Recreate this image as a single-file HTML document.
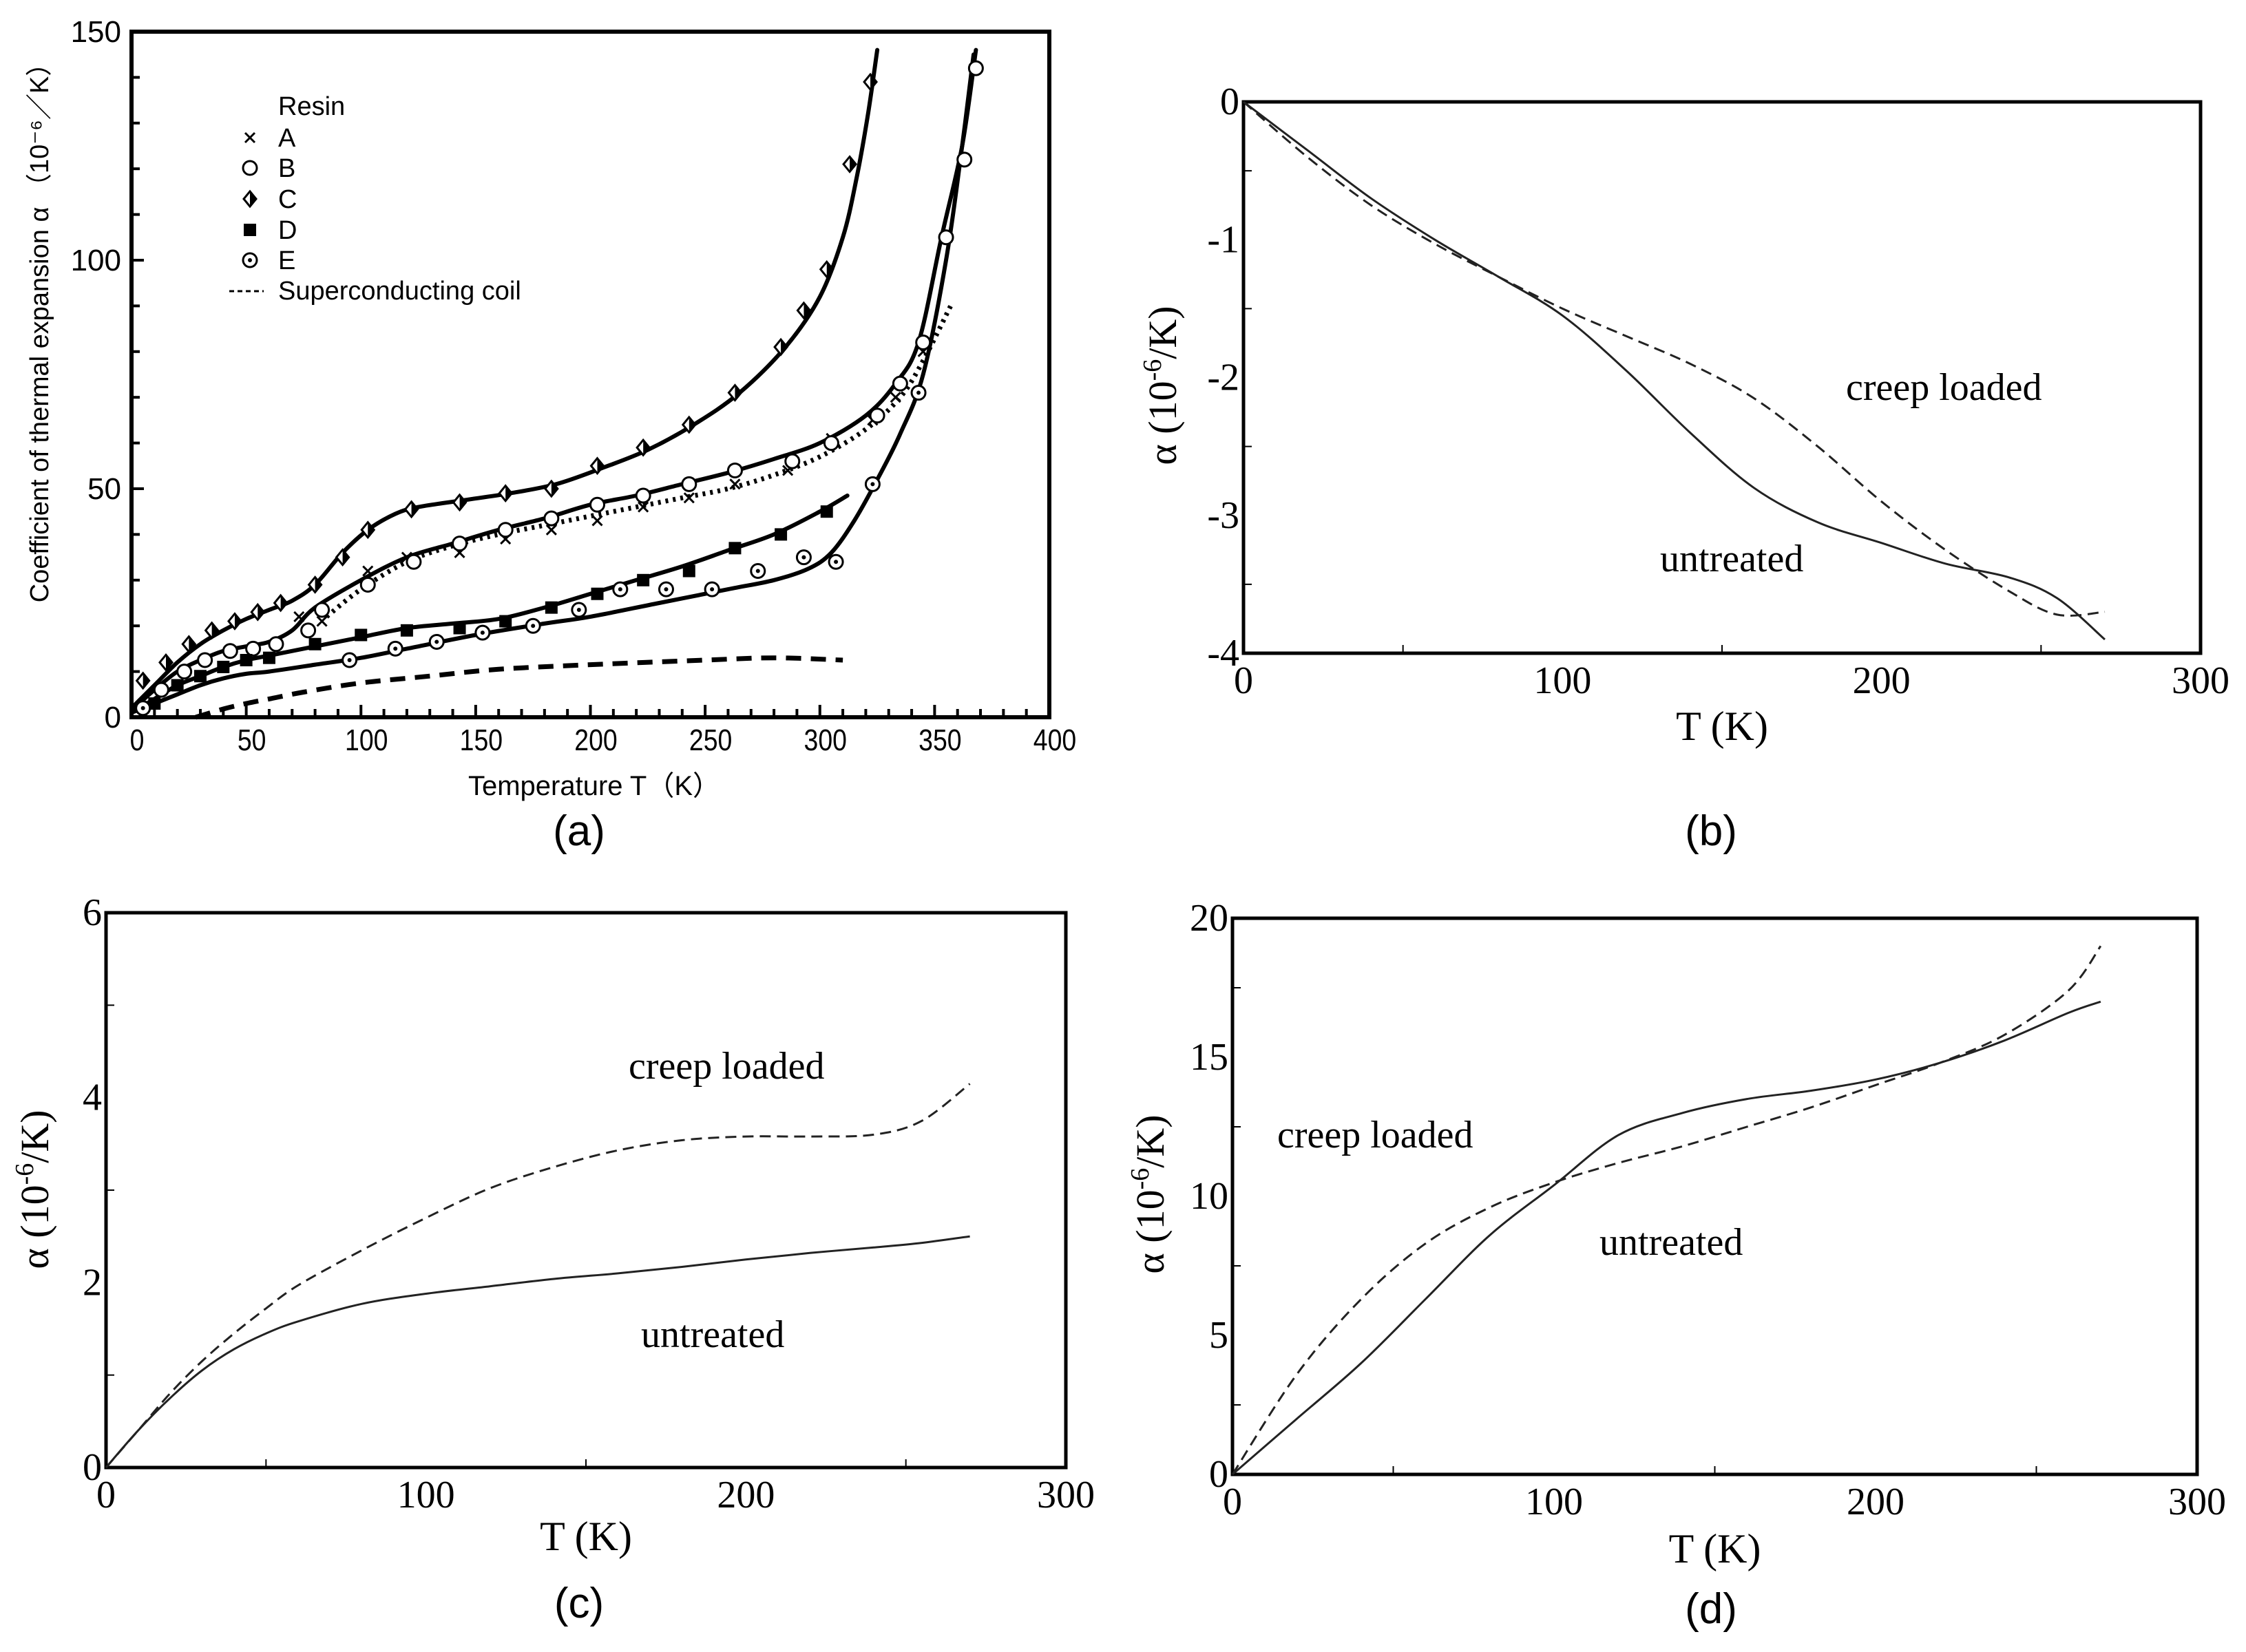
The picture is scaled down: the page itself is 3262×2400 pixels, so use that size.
<!DOCTYPE html>
<html><head><meta charset="utf-8"><style>
html,body{margin:0;padding:0;background:#fff}
svg{display:block}
.sans{font-family:"Liberation Sans",sans-serif}
.serif{font-family:"Liberation Serif",serif}
</style></head><body>
<svg id="root" width="3262" height="2400" viewBox="0 0 3262 2400" xmlns="http://www.w3.org/2000/svg">
<rect width="3262" height="2400" fill="#fff"/>
</svg>
<script>
// ---------- Panel (a) data ----------
const aC_T=[5,15,25,35,45,55,65,80,92,103,122,143,163,183,203,223,243,263,283,293,303,313,322];
const aC_V=[8,12,16,19,21,23,25,29,35,41,45.5,47,49,50,55,59,64,71,81,89,98,121,139];
const aCl_T=[0,10,20,30,40,50,60,70,80,92,103,115,125,145,165,185,205,225,245,265,285,300,310,316,321,325];
const aCl_V=[2,7,12,16,19,21.5,23.5,25.5,29,36,41,44.5,46,47.5,49,51,54.5,58.5,64,71,81,92,105,118,132,146];
const aB_T=[5,13,23,32,43,53,63,77,83,103,123,143,163,183,203,223,243,263,288,305,325,335,345,355,363,368];
const aB_V=[2,6,10,12.5,14.5,15,16,19,23.5,29,34,38,41,43.5,46.5,48.5,51,54,56,60,66,73,82,105,122,142];
const aBl_T=[0,10,20,30,40,50,60,70,80,100,120,140,160,180,200,220,240,260,280,300,320,333,343,353,362,368];
const aBl_V=[1.5,6,10,12.5,14.5,15.5,16.5,19,24,30,35,38,41,43.5,46.5,48.5,51,53.5,56.5,60,66,73,82,105,125,146];
const aA_T=[73,83,103,120,143,163,183,203,223,243,263,286,305,323,333,345];
const aA_V=[22,21,32,35,36,39,41,43,46,48,51,54,61,65,70,80];
const aAl_T=[85,100,120,140,160,180,200,220,240,260,280,300,320,335,345,357];
const aAl_V=[22,28,34,37.5,40,42,44,46,48,50,53,57,63,70,78,90];
const aD_T=[10,20,30,40,50,60,80,100,120,143,163,183,203,223,243,263,283,303];
const aD_V=[3,7,9,11,12.5,13,16,18,19,19.5,21,24,27,30,32,37,40,45];
const aDl_T=[0,10,20,30,40,50,60,80,100,120,140,160,180,200,220,240,260,280,300,312];
const aDl_V=[1,4,7,9,11,12.5,13.5,15.5,17.5,19.5,20.5,21.5,24,27,30,33,36.5,40,45,48.5];
const aE_T=[5,95,115,133,153,175,195,213,233,253,273,293,307,323,343];
const aE_V=[2,12.5,15,16.5,18.5,20,23.5,28,28,28,32,35,34,51,71];
const aEl_T=[0,10,20,30,40,50,60,80,100,120,150,180,200,230,260,280,295,305,315,325,335,345,355,362,367];
const aEl_V=[1,3,5,7,8.5,9.5,10,11.5,13,15,18,20.5,22,25,28,30,32.5,36,43,52,62,75,100,125,145];
const aCoil_T=[28,40,50,60,75,100,130,160,200,250,280,310];
const aCoil_V=[0,1.8,3,4,5.5,7.5,9,10.5,11.5,12.5,13,12.5];
const aXTicks=[0,50,100,150,200,250,300,350,400];
const aYTicks=[0,50,100,150];
// ---------- Panel (b) data ----------
const bT=[0,20,40,60,80,100,120,140,160,180,200,220,240,255,270];
const bUntreated=[0,-0.35,-0.7,-1.0,-1.27,-1.55,-1.95,-2.4,-2.8,-3.05,-3.2,-3.35,-3.45,-3.6,-3.9];
const bCreep=[0,-0.4,-0.75,-1.03,-1.27,-1.5,-1.7,-1.9,-2.15,-2.5,-2.9,-3.25,-3.55,-3.72,-3.7];
const bXTicks=[0,100,200,300];
const bYTicks=[0,-1,-2,-3,-4];
// ---------- Panel (c) data ----------
const cT=[0,10,20,30,40,50,60,80,100,120,140,160,180,200,220,240,255,270];
const cCreep=[0,0.4,0.8,1.15,1.45,1.72,1.97,2.35,2.7,3.02,3.25,3.43,3.54,3.58,3.58,3.6,3.75,4.15];
const cUntreated=[0,0.4,0.75,1.05,1.28,1.45,1.58,1.77,1.88,1.96,2.04,2.1,2.17,2.25,2.32,2.38,2.43,2.5];
const cXTicks=[0,100,200,300];
const cYTicks=[0,2,4,6];
// ---------- Panel (d) data ----------
const dT=[0,20,40,60,80,100,120,140,160,180,200,220,240,260,270];
const dUntreated=[0,2,4,6.3,8.6,10.4,12.2,13.0,13.5,13.8,14.2,14.8,15.6,16.6,17];
const dCreep=[0,3.6,6.3,8.3,9.6,10.5,11.2,11.8,12.5,13.2,14.0,14.8,15.8,17.4,19];
const dXTicks=[0,100,200,300];
const dYTicks=[0,5,10,15,20];

const NS="http://www.w3.org/2000/svg";
const root=document.getElementById('root');
function mk(tag,attrs,parent,text){const e=document.createElementNS(NS,tag);for(const k in attrs)e.setAttribute(k,attrs[k]);if(text!==undefined)e.textContent=text;(parent||root).appendChild(e);return e;}
function scale(d0,d1,p0,p1){return v=>p0+(v-d0)*(p1-p0)/(d1-d0);}
function smooth(xs,ys){let pts=xs.map((x,i)=>[x,ys[i]]);let d='M'+pts[0][0].toFixed(1)+','+pts[0][1].toFixed(1);
 for(let i=0;i<pts.length-1;i++){const p0=pts[Math.max(0,i-1)],p1=pts[i],p2=pts[i+1],p3=pts[Math.min(pts.length-1,i+2)];
 const c1=[p1[0]+(p2[0]-p0[0])/6,p1[1]+(p2[1]-p0[1])/6],c2=[p2[0]-(p3[0]-p1[0])/6,p2[1]-(p3[1]-p1[1])/6];
 d+=' C'+c1.map(v=>v.toFixed(1))+' '+c2.map(v=>v.toFixed(1))+' '+p2.map(v=>v.toFixed(1));}return d;}

// ===== Panel (a) =====
(function(){
 const g=mk('g',{});
 
 
 const L=191,R=1524,T=46,B=1042;
 const X=scale(0,400,L,R),Y=scale(0,150,B,T);
 const fr=mk('rect',{x:L,y:T,width:R-L,height:B-T,fill:'none',stroke:'#000','stroke-width':6},g);
 
 
 for(let v=10;v<150;v+=10){const t=mk('line',{x1:L,x2:L+(v%50?12:18),y1:Y(v),y2:Y(v),stroke:'#000','stroke-width':4},g);
  
  }
 for(let v=10;v<400;v+=10){const t=mk('line',{x1:X(v),x2:X(v),y1:B,y2:B-(v%50?12:18),stroke:'#000','stroke-width':4},g);
  
  }
 aXTicks.forEach(v=>{const t=mk('text',{x:X(v)+8,y:1090,'text-anchor':'middle','font-size':44,class:'sans',transform:`translate(${X(v)+8},0) scale(0.85,1) translate(${-(X(v)+8)},0)`},g,String(v));
  
  });
 aYTicks.forEach(v=>{const t=mk('text',{x:176,y:Y(v)+15,'text-anchor':'end','font-size':44,class:'sans'},g,String(v));
  
  });
 const xt=mk('text',{x:863,y:1155,'text-anchor':'middle','font-size':40,class:'sans'},g,'Temperature T（K）');
 
 
 const yt=mk('text',{x:0,y:0,'text-anchor':'middle','font-size':38,class:'sans',transform:'translate(70,474) rotate(-90)'},g,'Coefficient of thermal expansion α （10⁻⁶／K）');
 
 
 const lab=mk('text',{x:841,y:1228,'text-anchor':'middle','font-size':62,class:'sans'},g,'(a)');
 
 
 const line=(ts,vs,name,extra)=>{const p=mk('path',Object.assign({d:smooth(ts.map(X),vs.map(Y)),fill:'none',stroke:'#000','stroke-width':6,'stroke-linecap':'round'},extra||{}),g);
  
  };
 line(aCl_T,aCl_V,'curve-resin-c');
 line(aBl_T,aBl_V,'curve-resin-b');
 line(aAl_T,aAl_V,'curve-resin-a',{'stroke-dasharray':'4 7','stroke-width':7,'stroke-linecap':'butt'});
 line(aDl_T,aDl_V,'curve-resin-d');
 line(aEl_T,aEl_V,'curve-resin-e');
 line(aCoil_T,aCoil_V,'curve-superconducting-coil',{'stroke-dasharray':'22 14','stroke-width':7,'stroke-linecap':'butt'});
 const marker=(type,x,y,name)=>{let e;
  if(type==='x'){e=mk('path',{d:`M${x-7},${y-7}L${x+7},${y+7}M${x-7},${y+7}L${x+7},${y-7}`,stroke:'#000','stroke-width':3},g);}
  else if(type==='o'){e=mk('circle',{cx:x,cy:y,r:10,fill:'#fff',stroke:'#000','stroke-width':3},g);}
  else if(type==='d'){e=mk('g',{},g);mk('path',{d:`M${x},${y-11}L${x+9},${y}L${x},${y+11}L${x-9},${y}Z`,fill:'#fff',stroke:'#000','stroke-width':3},e);mk('path',{d:`M${x},${y-11}L${x+9},${y}L${x},${y+11}Z`,fill:'#000'},e);}
  else if(type==='s'){e=mk('rect',{x:x-9,y:y-9,width:18,height:18,fill:'#000'},g);}
  else {e=mk('g',{},g);mk('circle',{cx:x,cy:y,r:10,fill:'#fff',stroke:'#000','stroke-width':3},e);mk('circle',{cx:x,cy:y,r:3,fill:'#000'},e);}
  
  };
 aA_T.forEach((t,i)=>marker('x',X(t),Y(aA_V[i]),'point-resin-a'));
 aB_T.forEach((t,i)=>marker('o',X(t),Y(aB_V[i]),'point-resin-b'));
 aC_T.forEach((t,i)=>marker('d',X(t),Y(aC_V[i]),'point-resin-c'));
 aD_T.forEach((t,i)=>marker('s',X(t),Y(aD_V[i]),'point-resin-d'));
 aE_T.forEach((t,i)=>marker('e',X(t),Y(aE_V[i]),'point-resin-e'));
 const lg=mk('g',{},g);
 
 
 const rt=mk('text',{x:404,y:167,'font-size':38,class:'sans'},lg,'Resin');
 
 
 [['x','A',213],['o','B',257],['d','C',302],['s','D',347],['e','E',391]].forEach(([m,n,y])=>{
  marker(m,363,y-13,'legend-marker');
  const t=mk('text',{x:404,y:y,'font-size':38,class:'sans'},lg,n);
  
  });
 const dl=mk('line',{x1:333,x2:383,y1:423,y2:423,stroke:'#000','stroke-width':3,'stroke-dasharray':'7 5'},lg);
 
 
 const st=mk('text',{x:404,y:435,'font-size':38,class:'sans'},lg,'Superconducting coil');
 
 
})();

// ===== Serif panels =====
function serifPanel(id,L,R,T,B,yMin,yMax,xTicks,yTicks,yMinor,series,labels,xTitleY,yTitleX,yTitleY,panelLabelY,panelLabelX){
 const g=mk('g',{});
 
 
 const X=scale(0,300,L,R),Y=scale(yMin,yMax,B,T);
 const fr=mk('rect',{x:L,y:T,width:R-L,height:B-T,fill:'none',stroke:'#000','stroke-width':5},g);
 
 
 [50,150,250].forEach(v=>{const t=mk('line',{x1:X(v),x2:X(v),y1:B,y2:B-12,stroke:'#000','stroke-width':2},g);
  
  });
 yMinor.forEach(v=>{const t=mk('line',{x1:L,x2:L+12,y1:Y(v),y2:Y(v),stroke:'#000','stroke-width':2},g);
  
  });
 xTicks.forEach(v=>{const t=mk('text',{x:X(v),y:B+58,'text-anchor':'middle','font-size':56,class:'serif'},g,String(v));
  
  });
 yTicks.forEach(v=>{const t=mk('text',{x:L-6,y:Y(v)+18,'text-anchor':'end','font-size':56,class:'serif'},g,String(v));
  
  });
 const xt=mk('text',{x:(L+R)/2,y:xTitleY,'text-anchor':'middle','font-size':60,class:'serif'},g,'T (K)');
 
 
 const yt=mk('text',{x:0,y:0,'text-anchor':'middle','font-size':58,class:'serif',transform:`translate(${yTitleX},${yTitleY}) rotate(-90)`},g);
 yt.innerHTML='α (10<tspan dy="-22" font-size="38">-6</tspan><tspan dy="22">/K)</tspan>';
 
 
 series.forEach(s=>{const p=mk('path',{d:smooth(s.t.map(X),s.v.map(Y)),fill:'none',stroke:'#222','stroke-width':3,'stroke-dasharray':s.dash?'16 9':'none'},g);
  
  });
 labels.forEach(l=>{const t=mk('text',{x:l[1],y:l[2],'font-size':56,class:'serif'},g,l[0]);
  
  });
 const pl=mk('text',{x:panelLabelX,y:panelLabelY,'text-anchor':'middle','font-size':62,class:'sans'},g,'('+id+')');
 
 
}
serifPanel('b',1806,3196,148,949,-4,0,bXTicks,bYTicks,[-0.5,-1.5,-2.5,-3.5],
 [{t:bT,v:bUntreated,dash:false,name:'curve-untreated-b'},{t:bT,v:bCreep,dash:true,name:'curve-creep-loaded-b'}],
 [['creep loaded',2681,581,'label-creep-loaded-b'],['untreated',2411,830,'label-untreated-b']],1075,1708,560,1228,2485);
serifPanel('c',154,1548,1326,2132,0,6,cXTicks,cYTicks,[1,3,5],
 [{t:cT,v:cUntreated,dash:false,name:'curve-untreated-c'},{t:cT,v:cCreep,dash:true,name:'curve-creep-loaded-c'}],
 [['creep loaded',913,1567,'label-creep-loaded-c'],['untreated',931,1957,'label-untreated-c']],2252,70,1728,2350,841);
serifPanel('d',1790,3191,1334,2142,0,20,dXTicks,dYTicks,[2.5,7.5,12.5,17.5],
 [{t:dT,v:dUntreated,dash:false,name:'curve-untreated-d'},{t:dT,v:dCreep,dash:true,name:'curve-creep-loaded-d'}],
 [['creep loaded',1855,1667,'label-creep-loaded-d'],['untreated',2323,1823,'label-untreated-d']],2270,1690,1735,2358,2485);
</script>
</body></html>
